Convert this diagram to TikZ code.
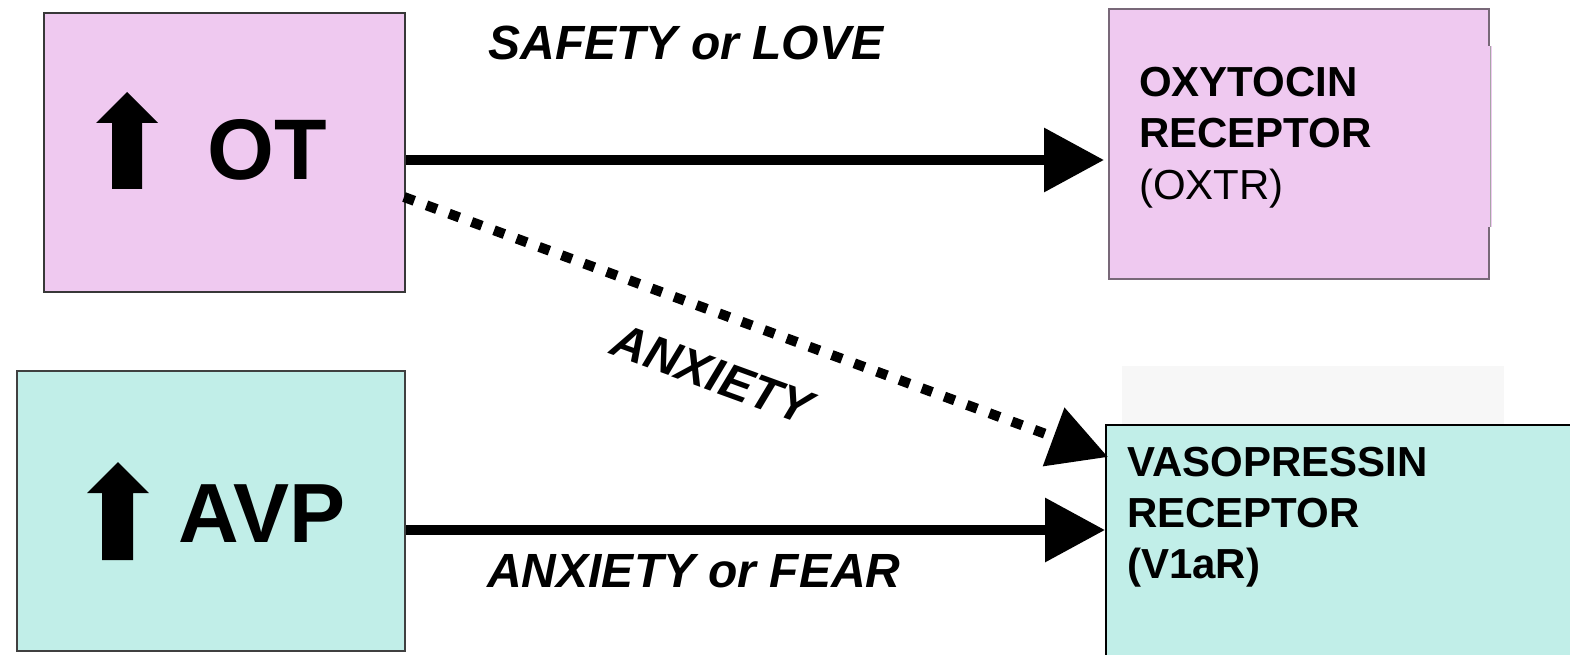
\documentclass[tikz,border=0pt]{standalone}
\usepackage{fontspec}
\setmainfont{Liberation Sans}
\usetikzlibrary{arrows.meta}
\definecolor{pinkfill}{HTML}{EFC9F0}
\definecolor{tealfill}{HTML}{C1EEE8}
\definecolor{pinkedge}{HTML}{786878}
\tikzset{
  box/.style={draw, rectangle, inner sep=0pt},
  conn/.style={line width=10pt, -{Triangle[length=60pt,width=62pt]}},
  dconn/.style={line width=10pt, dash pattern=on 11pt off 13pt, -{Triangle[length=58pt,width=60pt]}},
  lbl/.style={inner sep=0pt, font=\fontsize{48}{48}\selectfont\bfseries\itshape},
  rtxt/.style={inner sep=0pt, anchor=base west, font=\fontsize{42}{42}\selectfont\bfseries},
}
\begin{document}
\begin{tikzpicture}[x=1pt,y=-1pt]
\useasboundingbox (0,0) rectangle (1570,655);
% light background patch
\fill[black!3] (1122,366) rectangle (1504,424);
% boxes
\node[box, draw=black!78, line width=2pt, fill=pinkfill, minimum width=361pt, minimum height=279pt] (ot) at (224.5,152.5) {};
\node[box, draw=pinkedge, line width=2pt, fill=pinkfill, minimum width=380pt, minimum height=270pt] (oxtr) at (1299,144) {};
\fill[pinkfill] (1486,46) rectangle (1492,227);
\draw[black!35, line width=0.6pt] (1490.5,46) -- (1490.5,227);
\node[box, draw=black!75, line width=2pt, fill=tealfill, minimum width=388pt, minimum height=280pt] (avp) at (211,511) {};
\node[box, draw=black, line width=1.5pt, fill=tealfill, minimum width=480pt, minimum height=246pt, anchor=north west] (v1ar) at (1105,424) {};
% up arrows
\fill (96,123) -- (127,92) -- (158,123) -- (142,123) -- (142,189) -- (112,189) -- (112,123) -- cycle;
\fill (87,493) -- (118,462) -- (149,493) -- (133,493) -- (133,560) -- (102,560) -- (102,493) -- cycle;
% box texts
\node[inner sep=0pt, anchor=base, font=\fontsize{86}{86}\selectfont\bfseries] (otl) at (267.5,180) {OT};
\node[inner sep=0pt, anchor=base, font=\fontsize{84}{84}\selectfont\bfseries] (avpl) at (262,542) {AVP};
\node[rtxt] (ox1) at (1139,97) {OXYTOCIN};
\node[rtxt] (ox2) at (1139,148) {RECEPTOR};
\node[rtxt, font=\fontsize{42}{42}\selectfont] (ox3) at (1139,199) {(OXTR)};
\node[rtxt] (v1) at (1127,476) {VASOPRESSIN};
\node[rtxt] (v2) at (1127,527) {RECEPTOR};
\node[rtxt] (v3) at (1127,578) {(V1aR)};
% connectors
\draw[conn] ([yshift=-7.5pt]ot.east) coordinate (s1) -- ([xshift=-4pt]oxtr.west |- s1);
\draw[conn] ([yshift=-19pt]avp.east) coordinate (s2) -- (v1ar.west |- s2);
\draw[dconn] ([xshift=-2pt,yshift=-44.5pt]ot.east) -- ([xshift=3pt,yshift=-33pt]v1ar.north west);
% labels
\node[lbl, anchor=base] (l1) at (686,60) {SAFETY or LOVE};
\node[lbl, anchor=base] (l2) at (694,587) {ANXIETY or FEAR};
\node[lbl, rotate=-20] (l3) at (712,374) {ANXIETY};
\end{tikzpicture}
\end{document}
